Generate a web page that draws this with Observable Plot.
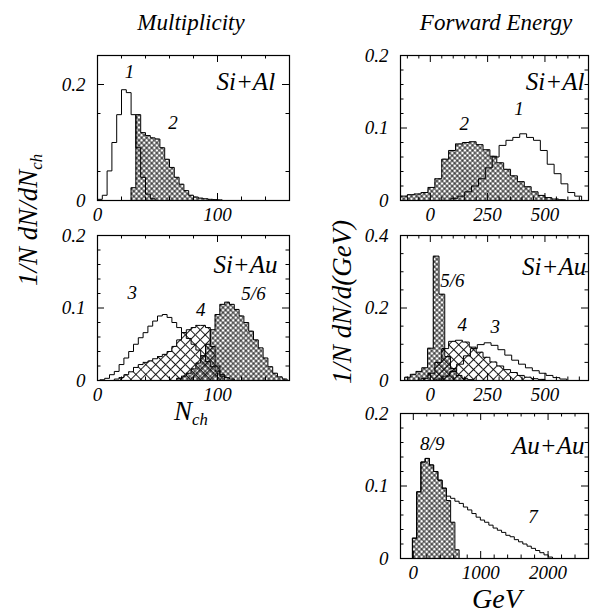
<!DOCTYPE html>
<html><head><meta charset="utf-8">
<script src="https://cdn.jsdelivr.net/npm/d3@7"></script>
<script src="https://cdn.jsdelivr.net/npm/@observablehq/plot@0.6"></script>
<style>
body{margin:0;background:#fff}
#root{position:relative;width:608px;height:614px;overflow:hidden;font-family:"Liberation Serif","Times New Roman",serif;font-style:italic;color:#000;background:#fff}
#root svg text{font-family:"Liberation Serif","Times New Roman",serif !important;font-style:italic !important}
.t{position:absolute;white-space:nowrap;line-height:1}
</style></head><body>
<div id="root">
<svg width="0" height="0" style="position:absolute">
<defs>
<pattern id="fine" width="3.6" height="3.6" patternUnits="userSpaceOnUse" patternTransform="rotate(45)">
<path d="M0,1.8H3.6M1.8,0V3.6" stroke="#000" stroke-width="0.85" fill="none"/></pattern>
<pattern id="coarse" width="7" height="7" patternUnits="userSpaceOnUse" patternTransform="rotate(45)">
<path d="M0,3.5H7M3.5,0V7" stroke="#000" stroke-width="0.9" fill="none"/></pattern>
</defs></svg>
</div>
<script>
// ---------- data ----------
// Multiplicity, Si+Al (bin width 4)
const multBin = 4;
const multSiAl1Start = 0;
const multSiAl1 = [0.002,0.009,0.051,0.100,0.148,0.191,0.186,0.148,0.091,0.040,0.011,0.003];
const multSiAl2Start = 28;
const multSiAl2 = [0.022,0.148,0.117,0.112,0.108,0.106,0.091,0.071,0.057,0.040,0.028,0.017,0.009,0.006,0.004,0.003,0.002,0.0015,0.001];
// Multiplicity, Si+Au
const multSiAu3Start = 2;
const multSiAu3 = [0.001,0.003,0.008,0.0125,0.022,0.031,0.040,0.050,0.059,0.066,0.075,0.082,0.089,0.091,0.087,0.080,0.073,0.066,0.058,0.050,0.042,0.034,0.026,0.019,0.013,0.008,0.004,0.002];
const multSiAu4Start = 14;
const multSiAu4 = [0.002,0.004,0.008,0.012,0.018,0.022,0.025,0.027,0.030,0.033,0.036,0.040,0.047,0.056,0.066,0.070,0.073,0.076,0.076,0.073,0.047,0.020,0.006];
const multSiAu56Start = 66;
const multSiAu56 = [0.003,0.006,0.010,0.016,0.024,0.034,0.050,0.070,0.091,0.105,0.108,0.105,0.098,0.089,0.080,0.068,0.056,0.045,0.031,0.019,0.010,0.005,0.002];
// Forward energy, Si+Al (bin width 30 GeV)
const eBin = 30;
const eSiAl1Start = 90;
const eSiAl1 = [0.003,0.006,0.012,0.020,0.030,0.045,0.060,0.076,0.083,0.087,0.092,0.087,0.083,0.069,0.050,0.037,0.023,0.011,0.006];
const eSiAl2Start = -130;
const eSiAl2 = [0.006,0.008,0.009,0.011,0.018,0.030,0.057,0.069,0.078,0.080,0.081,0.077,0.070,0.061,0.052,0.043,0.034,0.026,0.019,0.012,0.007,0.004,0.002,0.001];
// Forward energy, Si+Au
const eSiAu56Bin = 25;
const eSiAu56Start = -112;
const eSiAu56 = [0.009,0.017,0.025,0.035,0.089,0.343,0.238,0.066,0.033,0.014,0.006,0.002];
const eSiAu4Start = -40;
const eSiAu4 = [0.006,0.020,0.050,0.088,0.108,0.111,0.106,0.092,0.078,0.064,0.051,0.040,0.030,0.022,0.014,0.009,0.005,0.003];
const eSiAu3Start = 25;
const eSiAu3 = [0.004,0.012,0.025,0.045,0.068,0.088,0.099,0.104,0.097,0.085,0.070,0.056,0.045,0.035,0.027,0.020,0.014,0.008,0.004];
// Forward energy, Au+Au (bin width 63 GeV)
const eAuBin = 63;
const eAuStart = -13;
const eAuAu89 = [0.028,0.092,0.133,0.138,0.129,0.120,0.108,0.097,0.080,0.050,0.012];
const eAuAu7 = [0.028,0.092,0.133,0.138,0.129,0.120,0.108,0.097,0.086,0.083,0.079,0.076,0.071,0.067,0.062,0.057,0.053,0.050,0.046,0.042,0.039,0.036,0.032,0.030,0.026,0.023,0.020,0.017,0.014,0.011,0.008,0.005,0.002];

// ticks
const multXMinor = [20,40,60,80,120,140];
const multXMajor = [0,100];
const siXMinor = [-100,-50,50,100,150,200,300,350,400,450,550,600,650];
const siXMajor = [0,250,500];
const auXMinor = [200,400,600,800,1200,1400,1600,1800,2200,2400];
const auXMajor = [0,1000,2000];
const yMinor005 = [0.05,0.15];
const yMajor02 = [0,0.2];
const yMinor002 = [0.02,0.04,0.06,0.08,0.12,0.14,0.16,0.18];
const yMajor01 = [0,0.1,0.2];
const yMinor005b = [0.05,0.1,0.15,0.25,0.3,0.35];
const yMajor04 = [0,0.2,0.4];

// labels
const labTL = [{t:"1",x:26.7,y:0.221},{t:"2",x:63,y:0.133}];
const labBL = [{t:"3",x:29,y:0.121},{t:"4",x:86,y:0.098},{t:"5/6",x:130,y:0.119}];
const labTR = [{t:"2",x:148,y:0.106},{t:"1",x:387,y:0.127}];
const labMR = [{t:"5/6",x:96,y:0.276},{t:"4",x:139,y:0.152},{t:"3",x:283,y:0.149}];
const labBR = [{t:"8/9",x:281,y:0.158},{t:"7",x:1778,y:0.057}];

// ---------- helpers ----------
function bins(start, w, vals){ return vals.map((v,i)=>({x1:start+i*w, x2:start+(i+1)*w, v})); }
function outline(start, w, vals){
  const pts=[{x:start,y:0}];
  vals.forEach((v,i)=>pts.push({x:start+i*w,y:v}));
  const e=start+vals.length*w;
  pts.push({x:e,y:vals[vals.length-1]}); pts.push({x:e,y:0});
  return pts;
}
const root = document.getElementById("root");
const FONT = "'Liberation Serif','Times New Roman',serif";
function panel(p){
  const ml=70, mr=14, mt=14, mb=40;
  const marks=[];
  for(const s of p.series){
    if(s.fill) marks.push(Plot.rect(bins(s.start,s.w,s.vals),{x1:"x1",x2:"x2",y1:0,y2:"v",fill:s.fill}));
  }
  for(const s of p.series){
    marks.push(Plot.line(outline(s.start,s.w,s.vals),{x:"x",y:"y",curve:"step-after",stroke:"#000",strokeWidth:1}));
  }
  marks.push(Plot.frame({stroke:"#000",strokeWidth:1.2}));
  const ts=3.5, tl=7;
  marks.push(Plot.tickX(p.xMinor,{x:d=>d,insetTop:p.h-ts,stroke:"#000"}));
  marks.push(Plot.tickX(p.xMinor,{x:d=>d,insetBottom:p.h-ts,stroke:"#000"}));
  marks.push(Plot.tickX(p.xMajor,{x:d=>d,insetTop:p.h-tl,stroke:"#000"}));
  marks.push(Plot.tickX(p.xMajor,{x:d=>d,insetBottom:p.h-tl,stroke:"#000"}));
  marks.push(Plot.tickY(p.yMinor,{y:d=>d,insetRight:p.w-ts,stroke:"#000"}));
  marks.push(Plot.tickY(p.yMinor,{y:d=>d,insetLeft:p.w-ts,stroke:"#000"}));
  marks.push(Plot.tickY(p.yMajor,{y:d=>d,insetRight:p.w-tl,stroke:"#000"}));
  marks.push(Plot.tickY(p.yMajor,{y:d=>d,insetLeft:p.w-tl,stroke:"#000"}));
  marks.push(Plot.axisX(p.xMajor,{anchor:"bottom",tickSize:0,tickPadding:7,label:null,tickFormat:d=>String(d),fontSize:19,fontStyle:"italic",fontFamily:FONT}));
  marks.push(Plot.axisY(p.yMajor,{anchor:"left",tickSize:0,tickPadding:12,label:null,tickFormat:d=>String(d),fontSize:19,fontStyle:"italic",fontFamily:FONT}));
  marks.push(Plot.text(p.labels,{x:"x",y:"y",text:"t",fontSize:19,textAnchor:"middle",fontStyle:"italic",fontFamily:FONT}));
  marks.push(Plot.text([p.name],{x:()=>p.name.x,y:()=>p.name.y,text:()=>p.name.t,fontSize:25,textAnchor:"end",fontStyle:"italic",fontFamily:FONT}));
  const svg = Plot.plot({
    width:p.w+ml+mr, height:p.h+mt+mb,
    marginLeft:ml, marginRight:mr, marginTop:mt, marginBottom:mb,
    x:{domain:p.xDomain, axis:null}, y:{domain:p.yDomain, axis:null},
    style:{fontFamily:FONT, fontStyle:"italic", fontSize:"19px", background:"transparent", color:"#000", overflow:"visible"},
    marks
  });
  svg.style.position="absolute";
  svg.style.left=(p.left-ml)+"px";
  svg.style.top=(p.top-mt)+"px";
  root.appendChild(svg);
}

panel({left:97,top:55,w:192,h:145,xDomain:[0,160],yDomain:[0,0.25],
  xMinor:multXMinor,xMajor:multXMajor,yMinor:yMinor005,yMajor:yMajor02,
  series:[{start:multSiAl2Start,w:multBin,vals:multSiAl2,fill:"url(#fine)"},{start:multSiAl1Start,w:multBin,vals:multSiAl1}],
  labels:labTL,name:{t:"Si+Al",x:148,y:0.204}});
panel({left:97,top:235,w:192,h:145,xDomain:[0,160],yDomain:[0,0.2],
  xMinor:multXMinor,xMajor:multXMajor,yMinor:yMinor002,yMajor:yMajor01,
  series:[{start:multSiAu56Start,w:multBin,vals:multSiAu56,fill:"url(#fine)"},{start:multSiAu4Start,w:multBin,vals:multSiAu4,fill:"url(#coarse)"},{start:multSiAu3Start,w:multBin,vals:multSiAu3}],
  labels:labBL,name:{t:"Si+Au",x:150,y:0.16}});
panel({left:400,top:55,w:188,h:145,xDomain:[-130,690],yDomain:[0,0.2],
  xMinor:siXMinor,xMajor:siXMajor,yMinor:yMinor002,yMajor:yMajor01,
  series:[{start:eSiAl2Start,w:eBin,vals:eSiAl2,fill:"url(#fine)"},{start:eSiAl1Start,w:eBin,vals:eSiAl1}],
  labels:labTR,name:{t:"Si+Al",x:672,y:0.163}});
panel({left:400,top:235,w:188,h:145,xDomain:[-130,690],yDomain:[0,0.4],
  xMinor:siXMinor,xMajor:siXMajor,yMinor:yMinor005b,yMajor:yMajor04,
  series:[{start:eSiAu56Start,w:eSiAu56Bin,vals:eSiAu56,fill:"url(#fine)"},{start:eSiAu4Start,w:eBin,vals:eSiAu4,fill:"url(#coarse)"},{start:eSiAu3Start,w:eBin,vals:eSiAu3}],
  labels:labMR,name:{t:"Si+Au",x:680,y:0.312}});
panel({left:400,top:413,w:188,h:145,xDomain:[-190,2600],yDomain:[0,0.2],
  xMinor:auXMinor,xMajor:auXMajor,yMinor:yMinor002,yMajor:yMajor01,
  series:[{start:eAuStart,w:eAuBin,vals:eAuAu89,fill:"url(#fine)"},{start:eAuStart,w:eAuBin,vals:eAuAu7}],
  labels:labBR,name:{t:"Au+Au",x:2540,y:0.155}});

// titles
function txt(html, x, y, size, rot){
  const d=document.createElement("div");
  d.className="t"; d.innerHTML=html; d.style.fontSize=size+"px";
  d.style.left=x+"px"; d.style.top=y+"px";
  d.style.transform="translate(-50%,-50%)"+(rot?" rotate(-90deg)":"");
  root.appendChild(d);
}
const sub = s => "<sub style='font-size:0.62em;vertical-align:-0.3em'>"+s+"</sub>";
txt("Multiplicity",191,22,23);
txt("Forward Energy",496,22,23);
txt("1/N dN/dN"+sub("ch"),30,220,27,true);
txt("1/N dN/d(GeV)",342,302,27,true);
txt("N"+sub("ch"),191,413,27);
txt("GeV",497,599,28);
</script>
</body></html>
